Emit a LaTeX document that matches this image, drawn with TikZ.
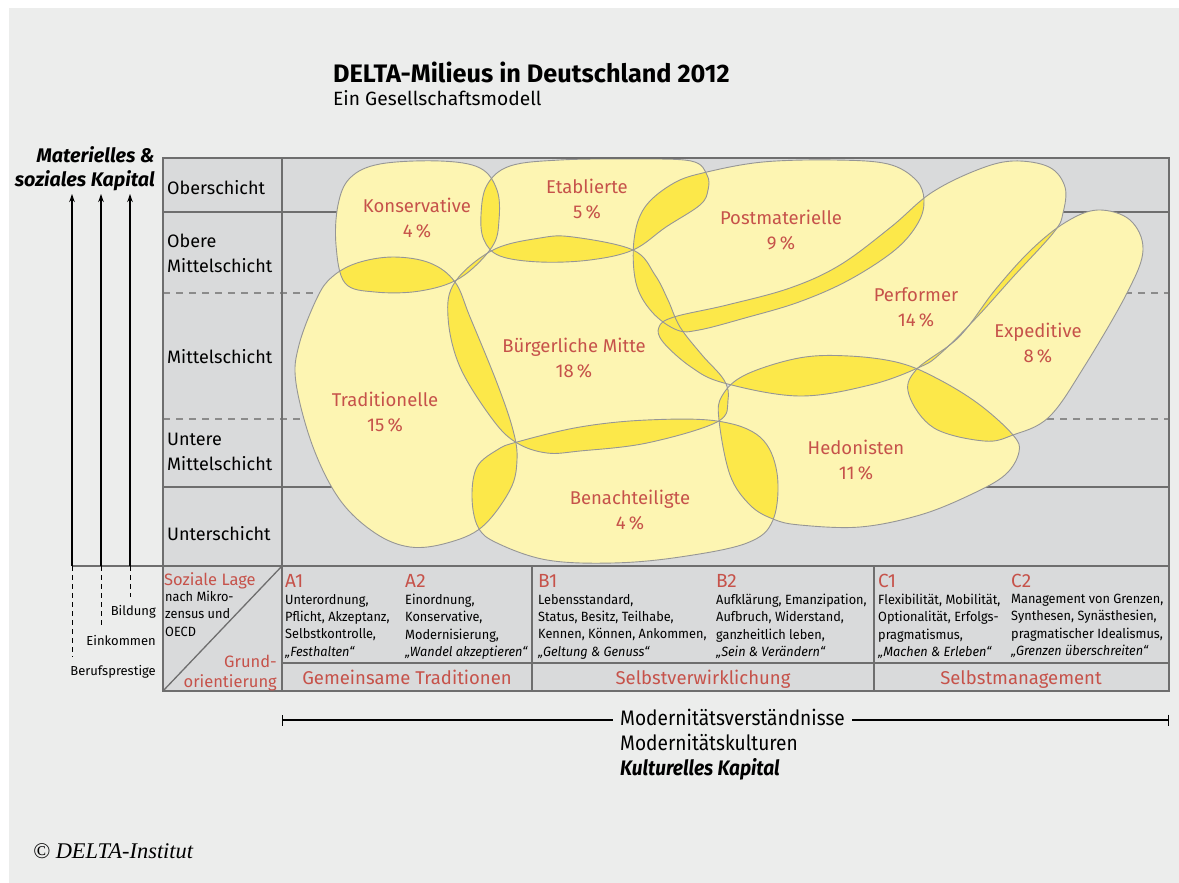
\documentclass[tikz,border=0pt]{standalone}
\usepackage{fontspec}
\setmainfont{Fira Sans}
\newfontfamily\condensed[FakeStretch=0.91]{Fira Sans}
\newfontfamily\tablefont[FakeStretch=0.95]{Fira Sans}
\newfontfamily\serifitalic{Liberation Serif}
\usetikzlibrary{arrows.meta}

\definecolor{bggrey}{RGB}{236,237,236}
\definecolor{cellgrey}{RGB}{217,218,219}
\definecolor{linegrey}{RGB}{110,110,110}
\definecolor{blobgrey}{RGB}{150,150,150}
\definecolor{lightyellow}{RGB}{253,245,178}
\definecolor{darkyellow}{RGB}{252,232,74}
\definecolor{milred}{RGB}{198,82,74}

\tikzset{
  gridline/.style={draw=linegrey, line width=1.3pt},
  griddash/.style={draw=linegrey!80, line width=1.2pt, dash pattern=on 7pt off 6pt},
  blob/.style={draw=blobgrey, line width=0.9pt},
  milieu/.style={align=center, text=milred, inner sep=0pt, font=\fontsize{18.5}{25}\selectfont},
  rowlabel/.style={anchor=north west, align=left, inner sep=0pt, font=\fontsize{18}{24.5}\selectfont},
  colhead/.style={anchor=base west, inner sep=0pt, text=milred, font=\fontsize{19}{19}\selectfont},
  coltext/.style={anchor=north west, align=left, inner sep=0pt, font=\tablefont\fontsize{13.4}{17.3}\selectfont},
  basic/.style={anchor=base, inner sep=0pt, text=milred, font=\fontsize{18.5}{18.5}\selectfont},
  axisarrow/.style={-{Stealth[length=8pt,width=5.5pt]}, line width=1.1pt},
  axisdash/.style={line width=0.9pt, dash pattern=on 5pt off 4pt},
  axislabel/.style={anchor=base east, inner sep=0pt, font=\fontsize{13}{13}\selectfont},
  capital/.style={anchor=base east, inner sep=0pt, font=\bfseries\itshape\fontsize{19.7}{19.7}\selectfont},
  culture/.style={anchor=base west, inner sep=0pt, font=\condensed\fontsize{21}{21}\selectfont},
}

% milieu outlines
\def\pkon{plot[smooth cycle,tension=.6] coordinates{(336,245) (338,205) (350,178) (380,164) (440,161) (480,168) (497,190) (499,220) (492,247) (460,278) (420,291) (375,292) (345,283)}}
\def\peta{plot[smooth cycle,tension=.6] coordinates{(481,215) (487,185) (510,166) (560,160) (630,159) (691,161) (707,175) (708,190) (700,205) (666,227) (633,250) (590,260) (540,262) (500,256) (484,240)}}
\def\ppos{plot[smooth cycle,tension=.6] coordinates{(634,240) (645,207) (674,183) (707,172) (763,162) (834,160) (888,164) (916,180) (924,200) (918,223) (895,250) (849,280) (799,302) (745,318) (699,330) (677,330) (652,312) (636,283)}}
\def\pper{plot[smooth cycle,tension=.6] coordinates{(659,327) (674,317) (727,305) (790,288) (840,265) (891,227) (931,193) (977,170) (1013,161) (1049,167) (1065,187) (1063,213) (1054,232) (1013,277) (977,317) (941,353) (920,367) (870,385) (799,396) (724,383) (691,367) (663,342)}}
\def\pexp{plot[smooth cycle,tension=.6] coordinates{(1066,222) (1098,210) (1130,220) (1143,250) (1127,293) (1084,367) (1049,417) (1013,435) (984,441) (934,428) (909,395) (916,370) (959,337) (995,290) (1031,250)}}
\def\pbm{plot[smooth cycle,tension=.6] coordinates{(455,282) (493,250) (540,238) (573,237) (633,250) (655,275) (668,300) (680,327) (702,355) (724,380) (728,400) (717,422) (647,443) (580,451) (547,453) (517,443) (493,420) (460,367) (448,317)}}
\def\ptra{plot[smooth cycle,tension=.6] coordinates{(393,257) (430,263) (455,282) (470,317) (497,383) (513,430) (517,460) (510,490) (482,527) (447,543) (410,547) (375,533) (340,500) (313,447) (296,383) (299,345) (317,298) (332,277) (357,263)}}
\def\phed{plot[smooth cycle,tension=.6] coordinates{(719,420) (722,396) (745,375) (799,358) (849,356) (900,363) (940,380) (980,405) (1013,435) (1019,452) (1005,475) (970,495) (920,515) (860,527) (800,525) (773,519) (750,505) (730,475)}}
\def\pben{plot[smooth cycle,tension=.6] coordinates{(517,442) (580,427) (647,420) (717,421) (760,437) (777,473) (773,520) (747,543) (680,557) (613,563) (547,560) (497,543) (478,527) (472,497) (477,467) (497,450)}}

\begin{document}
\begin{tikzpicture}[x=1pt, y=-1pt]
\useasboundingbox (0,0) rectangle (1179,883);
\fill[white] (0,0) rectangle (1179,883);
\fill[bggrey] (9,8) rectangle (1179,883);

% grid behind the milieus
\coordinate (nw) at (163,158);
\coordinate (se) at (1169,691);
\fill[cellgrey] (nw) rectangle (se);
\draw[gridline] (163,212) -- (1169,212);
\draw[griddash] (163,293) -- (1169,293);
\draw[griddash] (163,419) -- (1169,419);
\draw[gridline] (163,487) -- (1169,487);
\draw[gridline] (282,158) -- (282,691);

% milieus and their overlaps
\foreach \m in {kon,eta,pos,per,exp,bm,tra,hed,ben}{
  \edef\pa{\csname p\m\endcsname}
  \fill[lightyellow] \pa;
}
\foreach \a/\b in {kon/eta,kon/tra,kon/bm,eta/bm,eta/pos,pos/bm,pos/per,per/bm,per/exp,per/hed,exp/hed,bm/tra,bm/ben,bm/hed,tra/ben,ben/hed}{
  \begin{scope}
    \edef\pa{\csname p\a\endcsname}\edef\pb{\csname p\b\endcsname}
    \clip \pa;
    \fill[darkyellow] \pb;
  \end{scope}
}
\foreach \m in {kon,eta,pos,per,exp,bm,tra,hed,ben}{
  \edef\pa{\csname p\m\endcsname}
  \draw[blob] \pa;
}

\node[milieu] (kon) at (417,218) {Konservative\\4\,\%};
\node[milieu] (eta) at (587,199) {Etablierte\\5\,\%};
\node[milieu] (pos) at (781,230) {Postmaterielle\\9\,\%};
\node[milieu] (per) at (916,307) {Performer\\14\,\%};
\node[milieu] (exp) at (1038,343) {Expeditive\\8\,\%};
\node[milieu] (bm) at (574,358) {Bürgerliche Mitte\\18\,\%};
\node[milieu] (tra) at (385,412) {Traditionelle\\15\,\%};
\node[milieu] (hed) at (856,460) {Hedonisten\\11\,\%};
\node[milieu] (ben) at (630,510) {Benachteiligte\\4\,\%};

% frame and lower table
\draw[gridline] (nw) rectangle (se);
\coordinate (pres base) at (72,566);
\draw[gridline] (pres base) -- (1169,566);
\draw[gridline] (282,663) -- (1169,663);
\draw[gridline] (532,566) -- (532,691);
\draw[gridline] (874,566) -- (874,691);
\draw[gridline] (163,691) -- (282,566);

% titles
\node[anchor=base west, inner sep=0pt, font=\bfseries\fontsize{25.3}{25.3}\selectfont] (title) at (333,82) {DELTA-Milieus in Deutschland 2012};
\node[anchor=base west, inner sep=0pt, font=\fontsize{19.2}{19.2}\selectfont] (subtitle) at (333,106) {Ein Gesellschaftsmodell};

% vertical axis
\node[capital] (mat) at (155,162) {Materielles \&};
\node[capital] (soz) at (155,186) {soziales Kapital};
\foreach \n/\x/\d in {pres/72/657,eink/101/627,bild/130/597}{
  \coordinate (\n top) at (\x,194);
  \coordinate (\n base) at (\x,566);
  \coordinate (\n end) at (\x,\d);
  \draw[axisarrow] (\n base) -- (\n top);
  \draw[axisdash] (\n base) -- (\n end);
}
\node[axislabel] (bild) at (156,615) {Bildung};
\node[axislabel] (eink) at (156,645) {Einkommen};
\node[axislabel] (pres) at (156,675) {Berufsprestige};

\node[rowlabel] (r1) at (167,180) {Oberschicht};
\node[rowlabel] (r2) at (167,234) {Obere\\Mittelschicht};
\node[rowlabel] (r3) at (167,349) {Mittelschicht};
\node[rowlabel] (r4) at (167,433) {Untere\\Mittelschicht};
\node[rowlabel] (r5) at (167,526) {Unterschicht};

% lower table
\node[anchor=base west, inner sep=0pt, text=milred, font=\fontsize{16.5}{16.5}\selectfont] (lage) at (164,585) {Soziale Lage};
\node[coltext] (mikro) at (165,591) {nach Mikro-\\zensus und\\OECD};
\node[anchor=north east, align=right, inner sep=0pt, text=milred, font=\fontsize{16.5}{20}\selectfont] (grund) at (277,655) {Grund-\\orientierung};

\node[colhead] (a1) at (285,587) {A1};
\node[coltext] (a1t) at (285,594) {Unterordnung,\\Pflicht, Akzeptanz,\\Selbstkontrolle,\\\textit{„Festhalten“}};
\node[colhead] (a2) at (405,587) {A2};
\node[coltext] (a2t) at (405,594) {Einordnung,\\Konservative,\\Modernisierung,\\\textit{„Wandel akzeptieren“}};
\node[colhead] (b1) at (538,587) {B1};
\node[coltext] (b1t) at (538,594) {Lebensstandard,\\Status, Besitz, Teilhabe,\\Kennen, Können, Ankommen,\\\textit{„Geltung \& Genuss“}};
\node[colhead] (b2) at (716,587) {B2};
\node[coltext] (b2t) at (716,594) {Aufklärung, Emanzipation,\\Aufbruch, Widerstand,\\ganzheitlich leben,\\\textit{„Sein \& Verändern“}};
\node[colhead] (c1) at (878,587) {C1};
\node[coltext] (c1t) at (878,594) {Flexibilität, Mobilität,\\Optionalität, Erfolgs-\\pragmatismus,\\\textit{„Machen \& Erleben“}};
\node[colhead] (c2) at (1011,587) {C2};
\node[coltext] (c2t) at (1011,594) {Management von Grenzen,\\Synthesen, Synästhesien,\\pragmatischer Idealismus,\\\textit{„Grenzen überschreiten“}};

\node[basic] (gem) at (407,684) {Gemeinsame Traditionen};
\node[basic] (selbstv) at (703,684) {Selbstverwirklichung};
\node[basic] (selbstm) at (1021,684) {Selbstmanagement};

% horizontal axis
\coordinate (ml) at (282,720);
\coordinate (mr) at (1169,720);
\node[culture, inner xsep=7pt] (mv) at (613,725) {Modernitätsverständnisse};
\draw[{Bar[width=11pt]}-, line width=1.1pt] (ml) -- (mv.west |- ml);
\draw[-{Bar[width=11pt]}, line width=1.1pt] (mv.east |- mr) -- (mr);
\node[culture] (mk) at (620,750) {Modernitätskulturen};
\node[culture, font=\condensed\bfseries\itshape\fontsize{21}{21}\selectfont] (kk) at (620,775) {Kulturelles Kapital};

\node[anchor=base west, inner sep=0pt, font=\serifitalic\itshape\fontsize{22.4}{22.4}\selectfont] (copy) at (33,858) {© DELTA-Institut};
\end{tikzpicture}
\end{document}
